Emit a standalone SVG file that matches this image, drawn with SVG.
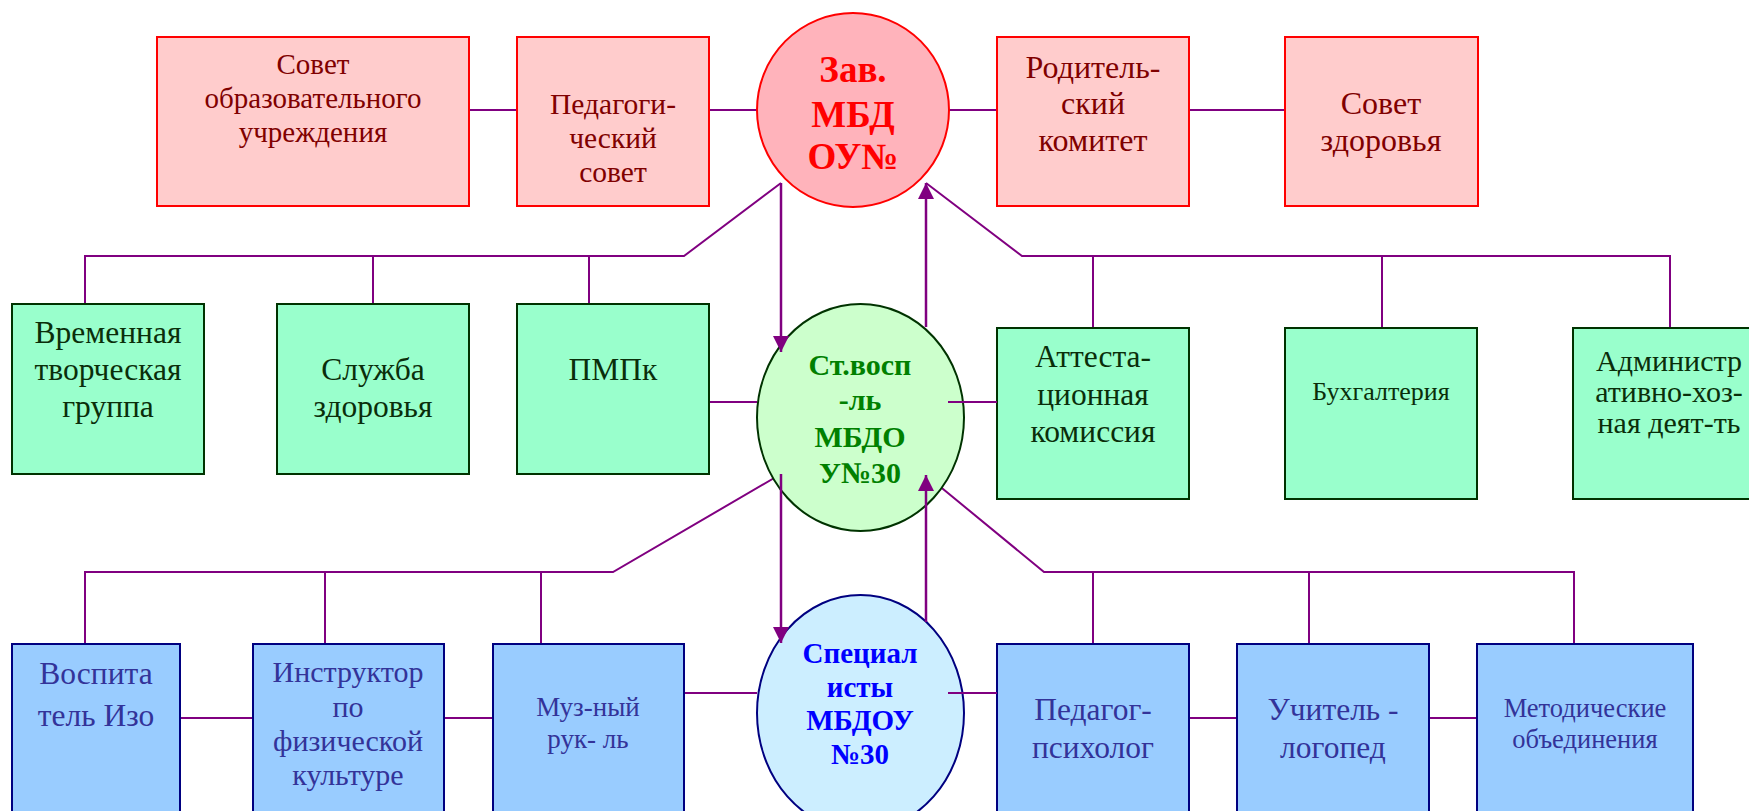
<svg xmlns="http://www.w3.org/2000/svg" width="1749" height="811" viewBox="0 0 1749 811">
<style>
text{font-family:"Liberation Serif","Times New Roman",serif;text-anchor:middle}
.rb{fill:#ffcccc;stroke:#ff0000;stroke-width:2}
.gb{fill:#99ffcc;stroke:#003300;stroke-width:2}
.bb{fill:#99ccff;stroke:#000080;stroke-width:2}
.rt{fill:#800000;font-size:29px}
.gt{fill:#0a2e0a;font-size:31.5px}
.bt{fill:#333399;font-size:31.5px}
.c{fill:none;stroke:#800080;stroke-width:2}
.a{fill:none;stroke:#800080;stroke-width:2.5}
</style>
<defs>
<marker id="ah" markerUnits="userSpaceOnUse" markerWidth="16" markerHeight="18" viewBox="0 0 16 18" refX="16" refY="8" orient="auto">
<path d="M0,0 L16,8 L0,16 Z" fill="#800080"/>
</marker>
</defs>
<g id="connectors">
<path class="c" d="M469,110 H517 M709,110 H757 M949,110 H997 M1189,110 H1285"/>
<path class="c" d="M781,183 L684,256 H85 V304 M373,256 V304 M589,256 V304"/>
<path class="c" d="M926,183 L1022,256 H1670 V328 M1093,256 V328 M1382,256 V328"/>
<path class="c" d="M709,402 H757 M948,402 H997"/>
<path class="c" d="M781,474 L613,572 H85 V644 M325,572 V644 M541,572 V644"/>
<path class="c" d="M926,475 L1044,572 H1574 V644 M1093,572 V644 M1309,572 V644"/>
<path class="c" d="M180,718 H253 M444,718 H493 M684,693 H757 M1189,718 H1237 M1429,718 H1477"/>
</g>
<g id="n_sovet_obr"><rect class="rb" x="157" y="37" width="312" height="169"/>
<text class="rt" x="313" y="74">Совет</text><text class="rt" x="313" y="108">образовательного</text><text class="rt" x="313" y="142">учреждения</text></g>
<g id="n_ped_sovet"><rect class="rb" x="517" y="37" width="192" height="169"/>
<text class="rt" x="613" y="114" style="font-size:29.5px">Педагоги-</text><text class="rt" x="613" y="148" style="font-size:29.5px">ческий</text><text class="rt" x="613" y="182" style="font-size:29.5px">совет</text></g>
<g id="n_rod_kom"><rect class="rb" x="997" y="37" width="192" height="169"/>
<text class="rt" x="1093" y="78" style="font-size:32px">Родитель-</text><text class="rt" x="1093" y="114" style="font-size:32px">ский</text><text class="rt" x="1093" y="151" style="font-size:32px">комитет</text></g>
<g id="n_sovet_zdor"><rect class="rb" x="1285" y="37" width="193" height="169"/>
<text class="rt" x="1381" y="114" style="font-size:32px">Совет</text><text class="rt" x="1381" y="151" style="font-size:32px">здоровья</text></g>
<g id="n_zav"><ellipse cx="853" cy="110" rx="96" ry="97" fill="#ffb3bb" stroke="#ff0000" stroke-width="2"/>
<g style="fill:#ff0000;font-size:37px;font-weight:bold"><text x="853" y="82">Зав.</text><text x="853" y="127">МБД</text><text x="853" y="169">ОУ№</text></g></g>
<g id="n_vtg"><rect class="gb" x="12" y="304" width="192" height="170"/>
<text class="gt" x="108" y="343">Временная</text><text class="gt" x="108" y="380">творческая</text><text class="gt" x="108" y="417">группа</text></g>
<g id="n_sluzhba"><rect class="gb" x="277" y="304" width="192" height="170"/>
<text class="gt" x="373" y="380">Служба</text><text class="gt" x="373" y="417">здоровья</text></g>
<g id="n_pmpk"><rect class="gb" x="517" y="304" width="192" height="170"/>
<text class="gt" x="613" y="380">ПМПк</text></g>
<g id="n_attest"><rect class="gb" x="997" y="328" width="192" height="171"/>
<text class="gt" x="1093" y="367">Аттеста-</text><text class="gt" x="1093" y="405">ционная</text><text class="gt" x="1093" y="442">комиссия</text></g>
<g id="n_buh"><rect class="gb" x="1285" y="328" width="192" height="171"/>
<text class="gt" x="1381" y="400" style="font-size:26px">Бухгалтерия</text></g>
<g id="n_adm"><rect class="gb" x="1573" y="328" width="192" height="171"/>
<text class="gt" x="1669" y="371" style="font-size:30px">Администр</text><text class="gt" x="1669" y="402" style="font-size:30px">ативно-хоз-</text><text class="gt" x="1669" y="433" style="font-size:30px">ная деят-ть</text></g>
<g id="n_stvosp"><ellipse cx="860.5" cy="417.5" rx="103.5" ry="113.5" fill="#ccffcc" stroke="#003300" stroke-width="2"/>
<g style="fill:#008000;font-size:30px;font-weight:bold"><text x="860" y="375">Ст.восп</text><text x="860" y="410">-ль</text><text x="860" y="447">МБДО</text><text x="860" y="483">У№30</text></g></g>
<g id="n_vosp"><rect class="bb" x="12" y="644" width="168" height="175"/>
<text class="bt" x="96" y="684">Воспита</text><text class="bt" x="96" y="726">тель Изо</text></g>
<g id="n_instr"><rect class="bb" x="253" y="644" width="191" height="175"/>
<text class="bt" x="348" y="682" style="font-size:30px">Инструктор</text><text class="bt" x="348" y="717" style="font-size:30px">по</text><text class="bt" x="348" y="751" style="font-size:30px">физической</text><text class="bt" x="348" y="785" style="font-size:30px">культуре</text></g>
<g id="n_muz"><rect class="bb" x="493" y="644" width="191" height="175"/>
<text class="bt" x="588" y="716" style="font-size:27px">Муз-ный</text><text class="bt" x="588" y="748" style="font-size:27px">рук- ль</text></g>
<g id="n_spec"><ellipse cx="860.5" cy="713" rx="103.5" ry="118" fill="#cceeff" stroke="#000080" stroke-width="2"/>
<g style="fill:#0000ff;font-size:29px;font-weight:bold"><text x="860" y="663">Специал</text><text x="860" y="697">исты</text><text x="860" y="730">МБДОУ</text><text x="860" y="764">№30</text></g></g>
<g id="n_psych"><rect class="bb" x="997" y="644" width="192" height="175"/>
<text class="bt" x="1093" y="720">Педагог-</text><text class="bt" x="1093" y="758">психолог</text></g>
<g id="n_logo"><rect class="bb" x="1237" y="644" width="192" height="175"/>
<text class="bt" x="1333" y="720">Учитель -</text><text class="bt" x="1333" y="758">логопед</text></g>
<g id="n_metod"><rect class="bb" x="1477" y="644" width="216" height="175"/>
<text class="bt" x="1585" y="717" style="font-size:26.5px">Методические</text><text class="bt" x="1585" y="748" style="font-size:26.5px">объединения</text></g>
<g id="arrows">
<path class="a" d="M781,183 V352" marker-end="url(#ah)"/>
<path class="a" d="M926,327 V183" marker-end="url(#ah)"/>
<path class="a" d="M781,474 V643" marker-end="url(#ah)"/>
<path class="a" d="M926,622 V475" marker-end="url(#ah)"/>
<path class="c" d="M948,402 H997 M948,693 H997"/>
</g>
</svg>
